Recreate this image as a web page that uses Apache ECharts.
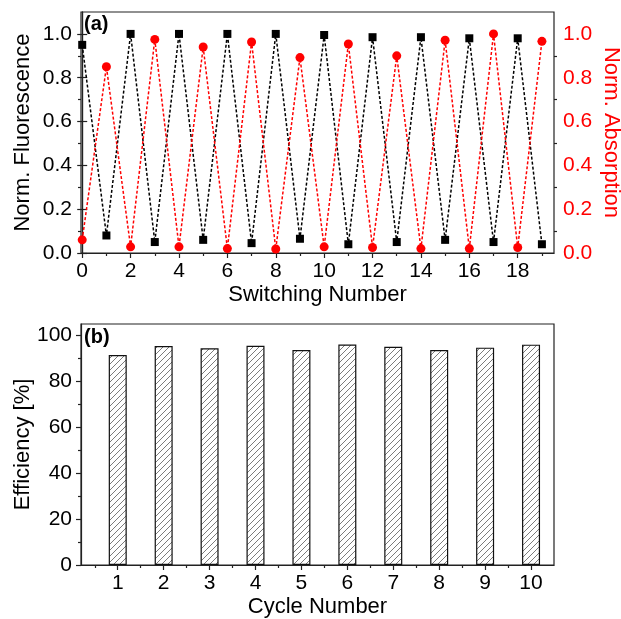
<!DOCTYPE html>
<html>
<head>
<meta charset="utf-8">
<script src="https://cdn.jsdelivr.net/npm/echarts@6/dist/echarts.min.js"></script>
<style>html,body{margin:0;padding:0;background:#fff}#c{width:621px;height:619px}</style>
</head>
<body>
<div id="c"></div>
<script>
// ---- data ----
const switchNumbers = [0,1,2,3,4,5,6,7,8,9,10,11,12,13,14,15,16,17,18,19];
const fluorescence = [0.95,0.08,1.0,0.05,1.0,0.06,1.0,0.045,1.0,0.065,0.995,0.04,0.985,0.05,0.985,0.06,0.98,0.05,0.98,0.04];
const absorption = [0.06,0.85,0.028,0.975,0.028,0.94,0.02,0.963,0.018,0.892,0.028,0.954,0.025,0.9,0.02,0.971,0.02,1.0,0.025,0.966];
const cycles = [1,2,3,4,5,6,7,8,9,10];
const efficiency = [91.5,95.4,94.4,95.5,93.7,96.1,95.1,93.7,94.7,96.0];
const topXMajor = [0,2,4,6,8,10,12,14,16,18];
const topXMinor = [1,3,5,7,9,11,13,15,17,19];
const topYMajor = [0,0.2,0.4,0.6,0.8,1.0];
const topYMinor = [0.1,0.3,0.5,0.7,0.9];
const botXMajor = [1,2,3,4,5,6,7,8,9,10];
const botXMinor = [0.5,1.5,2.5,3.5,4.5,5.5,6.5,7.5,8.5,9.5];
const botYMajor = [0,20,40,60,80,100];
const botYMinor = [10,30,50,70,90];

// hatch pattern
const pc = document.createElement('canvas');
const P = 6;
pc.width = P; pc.height = P;
const pctx = pc.getContext('2d');
pctx.fillStyle = '#ffffff';
pctx.fillRect(0,0,P,P);
pctx.strokeStyle = '#5a5a5a';
pctx.lineWidth = 0.8;
pctx.beginPath();
pctx.moveTo(0,P); pctx.lineTo(P,0);
pctx.moveTo(-P/2,P/2); pctx.lineTo(P/2,-P/2);
pctx.moveTo(P/2,P*1.5); pctx.lineTo(P*1.5,P/2);
pctx.stroke();

const FONT = 'Liberation Sans, Arial, sans-serif';
const AX = '#222';
const lineAx = {show:true, lineStyle:{color:AX, width:1.2}};

function majorAxis(extra){
  return Object.assign({
    type:'value', splitLine:{show:false}, axisLine:lineAx, nameMoveOverlap:false,
    axisTick:{show:true, length:5, lineStyle:{color:AX, width:1.2}},
    axisLabel:{fontSize:21, fontFamily:FONT, color:'#000', margin:8}
  }, extra);
}
function minorAxis(extra, vals){
  return Object.assign({
    type:'value', splitLine:{show:false}, axisLine:{show:false},
    axisTick:{show:true, length:3, customValues:vals, lineStyle:{color:AX, width:1.2}},
    axisLabel:{show:false}
  }, extra);
}

const chart = echarts.init(document.getElementById('c'), null, {renderer:'canvas'});
chart.setOption({
  animation:false,
  backgroundColor:'#fff',
  grid:[
    {left:81, top:12, width:473, height:241, show:true, borderColor:AX, borderWidth:1.2, containLabel:false, outerBoundsMode:'none'},
    {left:81, top:324, width:473, height:241, show:true, borderColor:AX, borderWidth:1.2, containLabel:false, outerBoundsMode:'none'}
  ],
  xAxis:[
    majorAxis({gridIndex:0, min:-0.05, max:19.5, position:'bottom',
      axisTick:{show:true, length:5, customValues:topXMajor, lineStyle:{color:AX, width:1.2}},
      axisLabel:{fontSize:21, fontFamily:FONT, color:'#000', margin:8, customValues:topXMajor},
      name:'Switching Number', nameLocation:'middle', nameGap:31,
      nameTextStyle:{fontSize:22, fontFamily:FONT, color:'#000'}}),
    minorAxis({gridIndex:0, min:-0.05, max:19.5, position:'bottom'}, topXMinor),
    majorAxis({gridIndex:1, min:0.2, max:10.5, position:'bottom',
      axisTick:{show:true, length:5, customValues:botXMajor, lineStyle:{color:AX, width:1.2}},
      axisLabel:{fontSize:21, fontFamily:FONT, color:'#000', margin:8, customValues:botXMajor},
      name:'Cycle Number', nameLocation:'middle', nameGap:31,
      nameTextStyle:{fontSize:22, fontFamily:FONT, color:'#000'}}),
    minorAxis({gridIndex:1, min:0.2, max:10.5, position:'bottom'}, botXMinor)
  ],
  yAxis:[
    majorAxis({gridIndex:0, min:0, max:1.1, position:'left',
      axisTick:{show:true, length:5, customValues:topYMajor, lineStyle:{color:AX, width:1.2}},
      axisLabel:{fontSize:21, fontFamily:FONT, color:'#000', margin:9, customValues:topYMajor,
        formatter:v=>Number(v).toFixed(1)},
      name:'Norm. Fluorescence', nameLocation:'middle', nameGap:47,
      nameTextStyle:{fontSize:22, fontFamily:FONT, color:'#000'}}),
    majorAxis({gridIndex:0, min:0, max:1.1, position:'right',
      axisTick:{show:true, length:5, customValues:topYMajor, lineStyle:{color:AX, width:1.2}},
      axisLabel:{fontSize:21, fontFamily:FONT, color:'#ff0000', margin:9, customValues:topYMajor,
        formatter:v=>Number(v).toFixed(1)},
      name:'Norm. Absorption', nameLocation:'middle', nameGap:46, nameRotate:-90,
      nameTextStyle:{fontSize:22, fontFamily:FONT, color:'#ff0000'}}),
    minorAxis({gridIndex:0, min:0, max:1.1, position:'left'}, topYMinor),
    minorAxis({gridIndex:0, min:0, max:1.1, position:'right'}, topYMinor),
    majorAxis({gridIndex:1, min:0, max:105, position:'left',
      axisTick:{show:true, length:5, customValues:botYMajor, lineStyle:{color:AX, width:1.2}},
      axisLabel:{fontSize:21, fontFamily:FONT, color:'#000', margin:9, customValues:botYMajor},
      name:'Efficiency [%]', nameLocation:'middle', nameGap:47,
      nameTextStyle:{fontSize:22, fontFamily:FONT, color:'#000'}}),
    minorAxis({gridIndex:1, min:0, max:105, position:'left'}, botYMinor)
  ],
  series:[
    {type:'line', xAxisIndex:0, yAxisIndex:0,
      data:switchNumbers.map((x,i)=>[x,fluorescence[i]]),
      symbol:'rect', symbolSize:8, itemStyle:{color:'#000'},
      lineStyle:{color:'#000', width:1.5, type:[3,2]}},
    {type:'line', xAxisIndex:0, yAxisIndex:1,
      data:switchNumbers.map((x,i)=>[x,absorption[i]]),
      symbol:'circle', symbolSize:9, itemStyle:{color:'#ff0000'},
      lineStyle:{color:'#ff0000', width:1.5, type:[3,2]}},
    {type:'bar', xAxisIndex:2, yAxisIndex:4,
      data:cycles.map((x,i)=>[x,efficiency[i]]),
      barWidth:18,
      itemStyle:{color:{image:pc, repeat:'repeat'}, borderColor:'#111', borderWidth:1.2}}
  ],
  graphic:[
    {type:'text', left:84, top:14, style:{text:'(a)', fontSize:20, fontWeight:'bold', fontFamily:FONT, fill:'#000'}},
    {type:'text', left:84, top:327, style:{text:'(b)', fontSize:20, fontWeight:'bold', fontFamily:FONT, fill:'#000'}}
  ]
});
</script>
</body>
</html>
